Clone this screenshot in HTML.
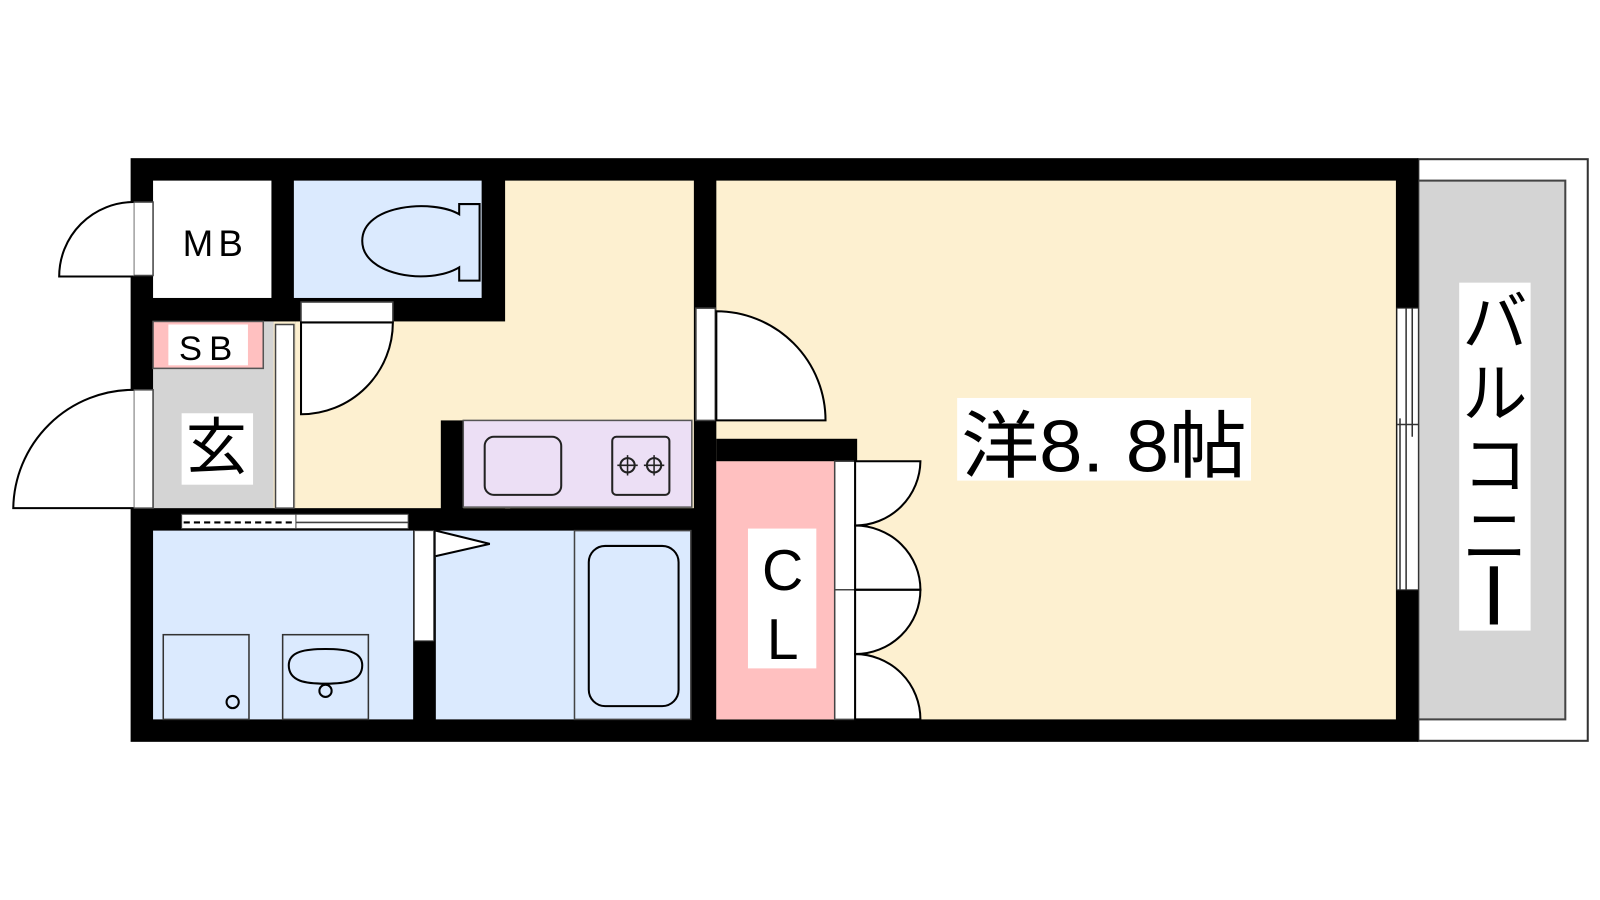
<!DOCTYPE html>
<html><head><meta charset="utf-8"><style>
html,body{margin:0;padding:0;background:#fff;width:1600px;height:900px;overflow:hidden}
svg{display:block}
text{font-family:"Liberation Sans","Noto Sans CJK JP",sans-serif}
</style></head><body>
<svg width="1600" height="900" viewBox="0 0 1568 882" preserveAspectRatio="none" xmlns="http://www.w3.org/2000/svg">
<!-- balcony -->
<rect x="1390" y="156" width="166" height="570" fill="#fff" stroke="#333" stroke-width="2"/>
<rect x="1390" y="177" width="144" height="528" fill="#d4d4d4" stroke="#444" stroke-width="2"/>
<rect x="1430" y="277" width="70" height="341" fill="#fff"/>
<text x="1465" y="338" font-size="64" text-anchor="middle">バ</text>
<text x="1465" y="408" font-size="64" text-anchor="middle">ル</text>
<text x="1465" y="478" font-size="64" text-anchor="middle">コ</text>
<text x="1465" y="548" font-size="64" text-anchor="middle">ニ</text>
<rect x="1460" y="555" width="8" height="57" fill="#000"/>

<!-- outer walls -->
<rect x="128" y="155" width="1262" height="572" fill="#000"/>
<!-- rooms -->
<rect x="702" y="177" width="666" height="528" fill="#fdf0d0"/>
<rect x="495" y="177" width="185" height="321" fill="#fdf0d0"/>
<rect x="290" y="315" width="210" height="183" fill="#fdf0d0"/>
<rect x="150" y="177" width="116" height="115" fill="#fff"/>
<rect x="288" y="177" width="184" height="115" fill="#dbeafe"/>
<rect x="150" y="315" width="118" height="183" fill="#d4d4d4"/>
<rect x="150" y="315" width="108" height="46" fill="#ffc0c0" stroke="#555" stroke-width="1.5"/>
<rect x="165" y="318" width="78" height="40" fill="#fff"/>
<rect x="268" y="315" width="22" height="183" fill="#fdf0d0"/>
<rect x="270" y="318" width="18" height="180" fill="#fff" stroke="#444" stroke-width="1.5"/>
<rect x="150" y="520" width="255" height="185" fill="#dbeafe"/>
<rect x="427" y="520" width="250" height="185" fill="#dbeafe"/>
<rect x="702" y="452" width="116" height="253" fill="#ffc0c0"/>

<!-- kitchen counter -->
<rect x="432" y="412" width="22" height="88" fill="#000"/>
<rect x="454" y="412" width="224" height="85" fill="#ecdff5" stroke="#555" stroke-width="1.5"/>
<rect x="475" y="428" width="75" height="57" rx="9" fill="none" stroke="#222" stroke-width="2"/>
<rect x="600" y="428" width="56" height="57" rx="4" fill="none" stroke="#222" stroke-width="2"/>
<g stroke="#222" stroke-width="2" fill="none">
<circle cx="615" cy="456" r="7"/><circle cx="641" cy="456" r="7"/>
<path d="M615 446v20M605 456h20M641 446v20M631 456h20" stroke-width="1.5"/>
</g>

<!-- MB door -->
<rect x="131" y="198" width="19" height="72" fill="#fff" stroke="#444" stroke-width="1.5"/>
<path d="M131 198 A73 73 0 0 0 58 271 L131 271" fill="#fff" stroke="#000" stroke-width="2"/>
<!-- entrance door -->
<rect x="131" y="382" width="19" height="116" fill="#fff" stroke="#444" stroke-width="1.5"/>
<path d="M131 382 A118 118 0 0 0 13 498 L131 498" fill="#fff" stroke="#000" stroke-width="2"/>
<!-- toilet door -->
<rect x="295" y="296" width="90" height="20" fill="#fff" stroke="#444" stroke-width="1.5"/>
<path d="M295 316 L385 316 A90 90 0 0 1 295 406 Z" fill="#fff" stroke="#000" stroke-width="2"/>
<!-- toilet -->
<path d="M450 200 L470 200 L470 275 L450 275 L450 262 C420 280 355 270 355 236 C355 200 425 195 450 210 Z" fill="#dbeafe" stroke="#000" stroke-width="2"/>

<!-- sliding door at middle wall -->
<rect x="178" y="504" width="222" height="14" fill="#fff" stroke="#444" stroke-width="1"/>
<line x1="180" y1="512" x2="290" y2="512" stroke="#000" stroke-width="2" stroke-dasharray="6 4"/>
<line x1="290" y1="512" x2="400" y2="512" stroke="#444" stroke-width="1.5"/>
<line x1="290" y1="504" x2="290" y2="518" stroke="#444" stroke-width="1"/>

<!-- bath partition -->
<rect x="405" y="520" width="22" height="185" fill="#000"/>
<rect x="406" y="520" width="19" height="108" fill="#fff" stroke="#444" stroke-width="1"/>
<path d="M427 520 L480 533 L427 545" fill="#fff" stroke="#000" stroke-width="2"/>
<rect x="563" y="520" width="114" height="185" fill="none" stroke="#444" stroke-width="1.5"/>
<rect x="577" y="535" width="88" height="157" rx="16" fill="none" stroke="#000" stroke-width="2"/>
<rect x="160" y="622" width="84" height="83" fill="none" stroke="#333" stroke-width="1.5"/>
<circle cx="228" cy="688" r="6" fill="none" stroke="#000" stroke-width="2"/>
<rect x="277" y="622" width="84" height="83" fill="none" stroke="#333" stroke-width="1.5"/>
<path d="M319 670 C300 670 283 668 283 652 C283 638 300 636 319 636 C338 636 355 638 355 652 C355 668 338 670 319 670 Z" fill="none" stroke="#000" stroke-width="2"/>
<circle cx="319" cy="677" r="6" fill="#dbeafe" stroke="#000" stroke-width="2"/>

<!-- main room door -->
<rect x="682" y="302" width="19" height="110" fill="#fff" stroke="#444" stroke-width="1.5"/>
<path d="M702 305 A107 107 0 0 1 809 412 L702 412 Z" fill="#fff" stroke="#000" stroke-width="2"/>
<!-- closet wall -->
<rect x="702" y="430" width="138" height="22" fill="#000"/>
<rect x="818" y="452" width="20" height="253" fill="#fff" stroke="#444" stroke-width="1.5"/>
<line x1="818" y1="578" x2="838" y2="578" stroke="#444" stroke-width="1.5"/>
<g fill="#fff" stroke="#000" stroke-width="2">
<path d="M838 452 L902 452 A64 64 0 0 1 838 515 Z"/>
<path d="M838 515 A64 63 0 0 1 902 578 L838 578 Z"/>
<path d="M838 578 L902 578 A64 63 0 0 1 838 641 Z"/>
<path d="M838 641 A64 64 0 0 1 902 705 L838 705 Z"/>
</g>
<rect x="733" y="518" width="67" height="137" fill="#fff"/>
<text x="767" y="578" font-size="56" text-anchor="middle">C</text>
<text x="767" y="646" font-size="56" text-anchor="middle">L</text>

<!-- balcony window -->
<rect x="1369" y="302" width="21" height="276" fill="#fff" stroke="#333" stroke-width="1"/>
<line x1="1378" y1="302" x2="1378" y2="578" stroke="#333" stroke-width="1.5"/>
<line x1="1384" y1="302" x2="1384" y2="428" stroke="#333" stroke-width="1.5"/>
<line x1="1372" y1="410" x2="1372" y2="578" stroke="#333" stroke-width="1.5"/>
<line x1="1369" y1="416" x2="1390" y2="416" stroke="#333" stroke-width="1.5"/>

<!-- labels -->
<text x="211" y="251" font-size="36" text-anchor="middle" letter-spacing="5">MB</text>
<text x="205" y="353" font-size="34" text-anchor="middle" letter-spacing="7">SB</text>
<rect x="178" y="405" width="70" height="70" fill="#fff"/>
<text x="212" y="459" font-size="60" text-anchor="middle">玄</text>
<rect x="938" y="390" width="288" height="81" fill="#fff"/>
<text x="942" y="462" font-size="72" textLength="280" lengthAdjust="spacingAndGlyphs">洋8. 8帖</text>
</svg>
</body></html>
